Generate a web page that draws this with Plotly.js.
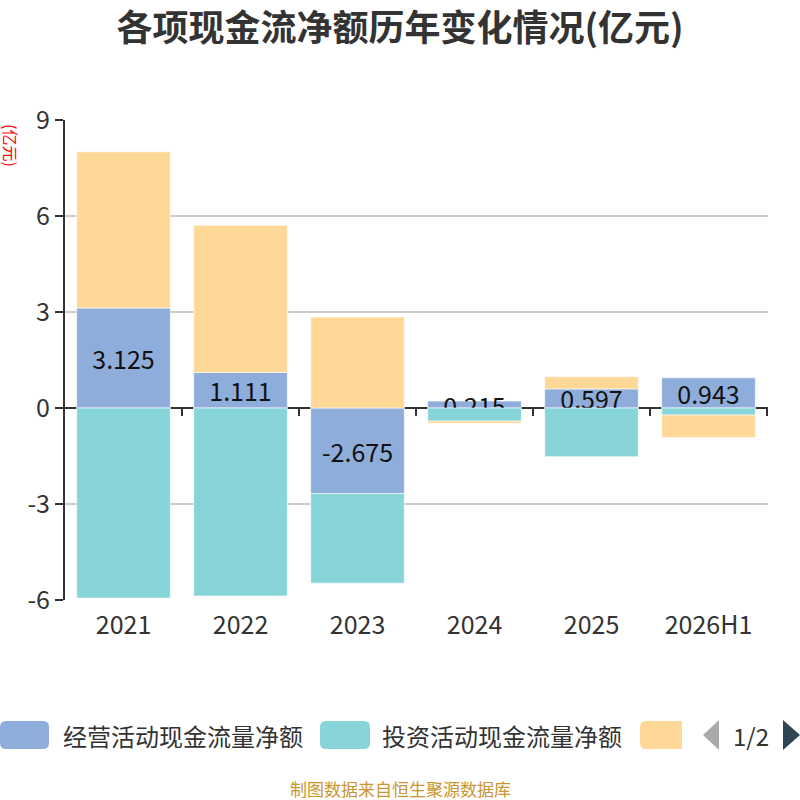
<!DOCTYPE html>
<html>
<head>
<meta charset="utf-8">
<script src="https://cdn.plot.ly/plotly-3.0.1.min.js"></script>
<style>
  html, body { margin: 0; padding: 0; background: #fff; }
  #chart { width: 800px; height: 800px; }
</style>
</head>
<body>
<div id="chart"></div>
<script>
// --- data ---
const categories = ['2021', '2022', '2023', '2024', '2025', '2026H1'];
const seriesNames = ['经营活动现金流量净额', '投资活动现金流量净额', '筹资活动现金流量净额'];
const operating = [3.125, 1.111, -2.675, 0.215, 0.597, 0.943];
const investing = [-5.94, -5.875, -2.80, -0.41, -1.52, -0.22];
const financing = [4.88, 4.60, 2.84, -0.07, 0.38, -0.70];
const yTicks = [-6, -3, 0, 3, 6, 9];

const colors = ['#8EADDA', '#87D5D8', '#FFD898'];
const FONT = '"Noto Sans CJK SC", "Noto Sans", sans-serif';

// plot area in pixels (layout margins)
const M = { l: 65, r: 32, t: 120, b: 200 };
const W = 800, H = 800;
const pw = W - M.l - M.r, ph = H - M.t - M.b;
const px = x => (x - M.l) / pw;          // pixel -> paper x
const py = y => (H - M.b - y) / ph;      // pixel -> paper y

function roundRect(x0, y0, x1, y1, r, rightRound = true) {
    const a = px(x0), b = px(x1), c = py(y0), d = py(y1);
    const rx = r / pw, ry = r / ph;
    let p = `M ${a + rx} ${c} `;
    if (rightRound) {
        p += `L ${b - rx} ${c} Q ${b} ${c} ${b} ${c - ry} L ${b} ${d + ry} Q ${b} ${d} ${b - rx} ${d} `;
    } else {
        p += `L ${b} ${c} L ${b} ${d} `;
    }
    p += `L ${a + rx} ${d} Q ${a} ${d} ${a} ${d + ry} L ${a} ${c - ry} Q ${a} ${c} ${a + rx} ${c} Z`;
    return p;
}

function tri(pts) {
    return 'M ' + pts.map(p => `${px(p[0])} ${py(p[1])}`).join(' L ') + ' Z';
}

const seriesValues = [operating, investing, financing];
const data = seriesValues.map((vals, i) => ({
    type: 'bar',
    name: seriesNames[i],
    x: categories,
    y: vals,
    marker: { color: colors[i], line: { color: 'rgba(255,255,255,0.6)', width: 1 } },
    text: i === 0 ? vals.map(v => v.toFixed(3)) : undefined,
    textposition: i === 0 ? 'inside' : 'none',
    insidetextanchor: 'middle',
    textangle: 0,
    constraintext: 'none',
    textfont: { family: FONT, size: 25, color: '#111' },
    hoverinfo: 'skip'
}));

// ticks on the zero line at category boundaries
const shapes = [];
for (let k = 1; k <= categories.length; k++) {
    shapes.push({
        type: 'line', xref: 'x', yref: 'y', ysizemode: 'pixel', yanchor: 0,
        x0: k - 0.5, x1: k - 0.5, y0: 0, y1: -8,
        line: { color: '#333', width: 2 }
    });
}

// hand-made legend (paged in the reference)
const legendItems = [
    { x0: 0, x1: 49, text: seriesNames[0], tx: 61, round: true },
    { x0: 320, x1: 370, text: seriesNames[1], tx: 380, round: true },
    { x0: 640, x1: 682, text: '', tx: 0, round: false }
];
legendItems.forEach((it, i) => {
    shapes.push({
        type: 'path', xref: 'paper', yref: 'paper',
        path: roundRect(it.x0, 721, it.x1, 749, 6, it.round),
        fillcolor: colors[i], line: { width: 0 }
    });
});
shapes.push({ type: 'path', xref: 'paper', yref: 'paper', path: tri([[703, 735], [719, 720], [719, 750]]),
    fillcolor: '#aaaaaa', line: { width: 0 } });
shapes.push({ type: 'path', xref: 'paper', yref: 'paper', path: tri([[783, 720], [800, 735], [783, 750]]),
    fillcolor: '#2f4554', line: { width: 0 } });

const annotations = [
    { text: '(亿元)', xref: 'paper', yref: 'paper', x: px(11), y: py(145), textangle: 90,
      xanchor: 'center', yanchor: 'middle',
      showarrow: false, font: { family: FONT, size: 16, color: '#ff0000' } },
    { text: '1/2', xref: 'paper', yref: 'paper', x: px(751), y: py(735), xanchor: 'center', yanchor: 'middle',
      showarrow: false, font: { family: FONT, size: 24, color: '#333' } },
    { text: '制图数据来自恒生聚源数据库', xref: 'paper', yref: 'paper', x: px(400), y: py(788),
      xanchor: 'center', yanchor: 'middle', showarrow: false,
      font: { family: FONT, size: 17, color: '#C9962E' } }
];
legendItems.forEach(it => {
    if (!it.text) return;
    annotations.push({ text: it.text, xref: 'paper', yref: 'paper', x: px(it.tx), y: py(735),
        xanchor: 'left', yanchor: 'middle', showarrow: false,
        font: { family: FONT, size: 24, color: '#333' } });
});

const layout = {
    width: W, height: H,
    margin: M,
    paper_bgcolor: '#fff', plot_bgcolor: '#fff',
    barmode: 'relative',
    bargap: 0.2,
    showlegend: false,
    hovermode: false,
    uniformtext: { mode: 'show', minsize: 25 },
    title: {
        text: '<b>各项现金流净额历年变化情况(亿元)</b>',
        x: 0.5, xanchor: 'center', y: 1 - 28 / H, yanchor: 'middle', yref: 'container',
        font: { family: FONT, size: 36, color: '#333' }
    },
    xaxis: {
        type: 'category', categoryarray: categories,
        showline: false, showgrid: false, ticks: '',
        tickfont: { family: FONT, size: 25, color: '#333' },
        ticklabelstandoff: 8
    },
    yaxis: {
        range: [-6, 9], tickvals: yTicks, ticktext: yTicks.map(String),
        showline: true, linecolor: '#333', linewidth: 2,
        ticks: 'outside', ticklen: 8, tickcolor: '#333', tickwidth: 2,
        showgrid: true, gridcolor: '#cccccc', gridwidth: 1.5,
        zeroline: true, zerolinecolor: '#333', zerolinewidth: 2,
        tickfont: { family: FONT, size: 25, color: '#333' }
    },
    shapes: shapes,
    annotations: annotations
};

Plotly.newPlot('chart', data, layout, { staticPlot: true });
</script>
</body>
</html>
